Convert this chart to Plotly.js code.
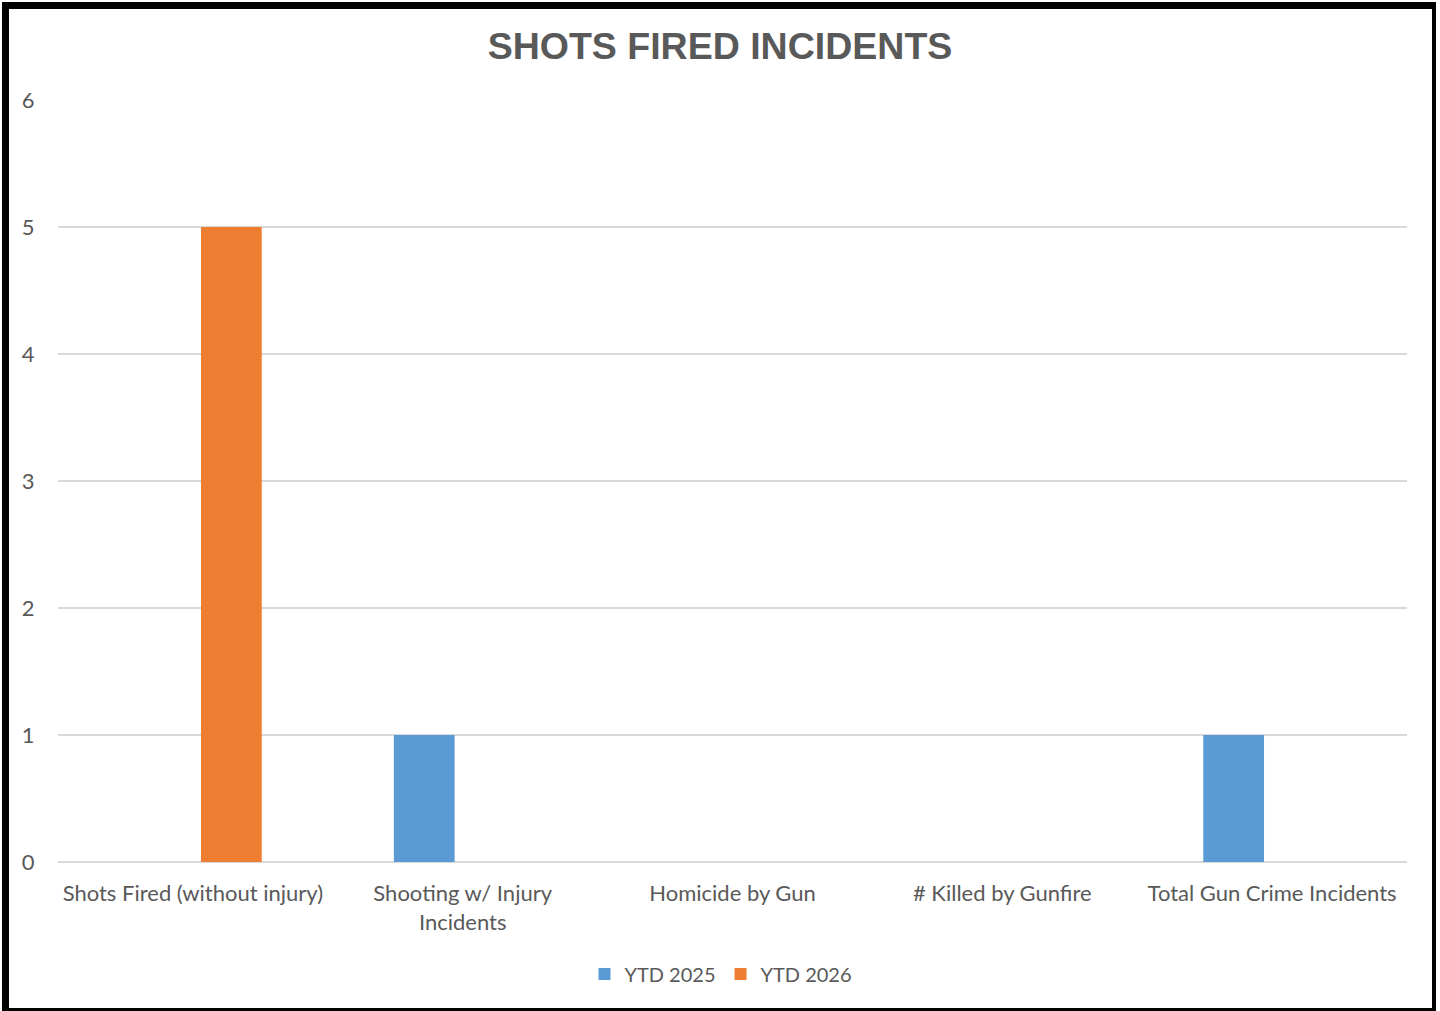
<!DOCTYPE html>
<html>
<head>
<meta charset="utf-8">
<script src="https://cdn.plot.ly/plotly-3.0.1.min.js"></script>
<style>
  html, body { margin: 0; padding: 0; background: #ffffff; }
  #wrap { position: relative; width: 1440px; height: 1011px; overflow: hidden; }
  #chart { width: 1440px; height: 1011px; }
  #frame {
    position: absolute; left: 2px; top: 2px; width: 1434px; height: 1009px;
    box-sizing: border-box; border-style: solid; border-color: #000;
    border-width: 7px 4px 3px 7px; pointer-events: none;
  }
</style>
</head>
<body>
<div id="wrap">
  <div id="chart"></div>
  <div id="frame"></div>
</div>
<script>
const categories = [
  "Shots Fired (without injury)",
  "Shooting w/ Injury<br>Incidents",
  "Homicide by Gun",
  "# Killed by Gunfire",
  "Total Gun Crime Incidents"
];
const ytd2025 = [0, 1, 0, 0, 1];
const ytd2026 = [5, 0, 0, 0, 0];
const seriesNames = ["YTD 2025", "YTD 2026"];
const yTicks = [0, 1, 2, 3, 4, 5, 6];

const textColor = "#595959";
const font = "Lato, 'Open Sans', 'Liberation Sans', sans-serif";

const data = [
  { type: "bar", name: seriesNames[0], x: categories, y: ytd2025,
    marker: { color: "#5B9BD5" }, hoverinfo: "x+y+name" },
  { type: "bar", name: seriesNames[1], x: categories, y: ytd2026,
    marker: { color: "#ED7D31" }, hoverinfo: "x+y+name" }
];

const layout = {
  width: 1440, height: 1011,
  paper_bgcolor: "#ffffff", plot_bgcolor: "#ffffff",
  margin: { l: 58, r: 33, t: 100, b: 149 },
  barmode: "group", bargap: 0.43, bargroupgap: 0.21,
  title: {
    text: "<b>SHOTS FIRED INCIDENTS</b>",
    font: { family: "'Liberation Sans', Arial, sans-serif", size: 37.5, color: textColor },
    x: 720 / 1440, xanchor: "center", xref: "container",
    y: 1 - 46 / 1011, yanchor: "middle", yref: "container"
  },
  xaxis: {
    type: "category",
    tickfont: { family: font, size: 22, color: textColor },
    ticks: "outside", ticklen: 12, tickcolor: "rgba(0,0,0,0)",
    showline: false, showgrid: false, zeroline: false, fixedrange: true
  },
  yaxis: {
    range: [0, 6], tickvals: yTicks,
    tickfont: { family: font, size: 22, color: textColor },
    ticks: "outside", ticklen: 18, tickcolor: "rgba(0,0,0,0)",
    showgrid: true, gridcolor: "#D9D9D9", gridwidth: 2,
    zeroline: true, zerolinecolor: "#D9D9D9", zerolinewidth: 2,
    showline: false, fixedrange: true
  },
  showlegend: true,
  legend: {
    orientation: "h", x: 721 / 1440, xanchor: "center", xref: "container",
    y: 1 - 974 / 1011, yanchor: "middle", yref: "container",
    font: { family: font, size: 20, color: textColor },
    itemclick: false, itemdoubleclick: false
  }
};

Plotly.newPlot("chart", data, layout, { displayModeBar: false });
</script>
</body>
</html>
